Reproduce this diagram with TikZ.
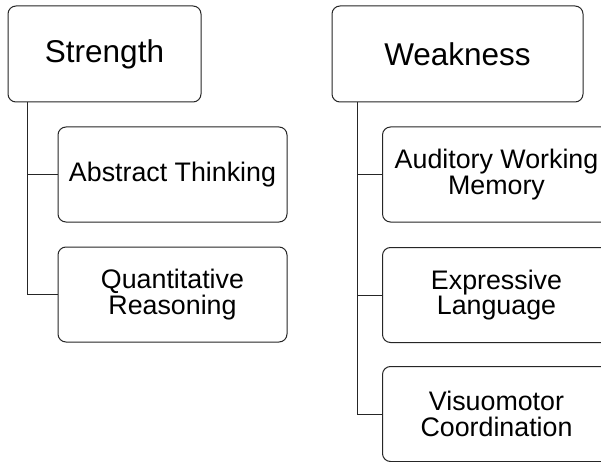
\documentclass[tikz,border=0pt]{standalone}
\usepackage{fontspec}
\setmainfont{Liberation Sans}
\usetikzlibrary{calc}
\begin{document}
\begin{tikzpicture}[x=1pt,y=-1pt,
  box/.style={draw=black!85,line width=1pt,rounded corners=8pt,inner sep=0pt,align=center},
  headbox/.style={box,minimum height=96pt,font=\fontsize{31.5}{31.5}\selectfont},
  itembox/.style={box,minimum height=95pt,font=\fontsize{26.8}{25.5}\selectfont},
  link/.style={draw=black!85,line width=1pt}]
\clip (0,0) rectangle (601,462);
\fill[white] (0,0) rectangle (601,462);

% left column
\node[headbox,minimum width=193pt] (S) at (104.5,54) {Strength};
\node[itembox,minimum width=229pt] (AT) at (172.5,174.5) {Abstract Thinking};
\node[itembox,minimum width=229pt] (QR) at (172.5,294.5) {Quantitative\\Reasoning};
\coordinate (sroot) at ($(S.south west)+(20,0)$);
\draw[link] (sroot) |- (AT.west);
\draw[link] (sroot) |- (QR.west);

% right column
\node[headbox,minimum width=251pt] (W) at (457.5,54) {Weakness};
\node[itembox,minimum width=228pt,anchor=west] (AWM) at (382,174.5) {Auditory Working\\Memory};
\node[itembox,minimum width=228pt,anchor=west] (EL) at (382,295) {Expressive\\Language};
\node[itembox,minimum width=228pt,anchor=west] (VC) at (382,414) {Visuomotor\\Coordination};
\coordinate (wroot) at ($(W.south west)+(26,0)$);
\draw[link] (wroot) |- (AWM.west);
\draw[link] (wroot) |- (EL.west);
\draw[link] (wroot) |- (VC.west);
\end{tikzpicture}
\end{document}
